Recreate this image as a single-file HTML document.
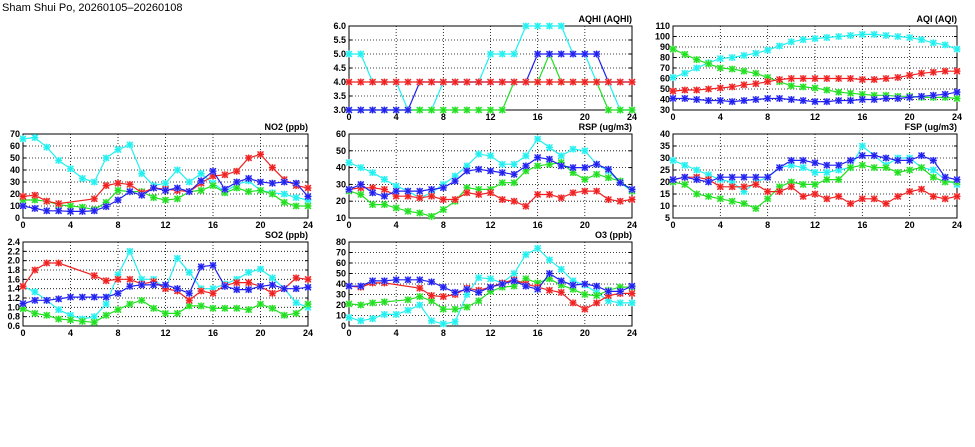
<!DOCTYPE html>
<html><head><meta charset="utf-8"><style>
html,body{margin:0;padding:0;background:#fff;}
svg{display:block;}
text{font-family:"Liberation Sans",sans-serif;font-size:9px;font-weight:bold;fill:#000;}
</style></head><body>
<svg id="s" width="975" height="447" xmlns="http://www.w3.org/2000/svg">
<text x="2" y="11" style="font-size:11px;font-weight:normal">Sham Shui Po, 20260105–20260108</text>
</svg>
<script>
var S=document.getElementById('s');var ns='http://www.w3.org/2000/svg';
function el(t,a,txt){var e=document.createElementNS(ns,t);for(var k in a)e.setAttribute(k,a[k]);if(txt!==undefined)e.textContent=txt;S.appendChild(e);return e;}
var C={c:'#20f0f0',g:'#20e020',r:'#f02020',b:'#2020f0'};
var L={c:'#a0f8f8',g:'#a0f0a0',r:'#f8a0a0',b:'#a0a0f8'};
var P=[
{t:'AQHI (AQHI)',o:['c','g','b','r'],x0:349,x1:632,y0:26,y1:110,mn:3,mx:6,st:0.5,f:1,d:{
c:[5,5,4,4,4,3,3,3,4,4,4,4,5,5,5,6,6,6,6,5,5,4,4,3,3],
g:[3,3,3,3,3,3,3,3,3,3,3,3,3,3,4,4,4,5,4,4,4,4,3,3,3],
b:[3,3,3,3,3,3,4,4,4,4,4,4,4,4,4,4,5,5,5,5,5,5,4,4,4],
r:[4,4,4,4,4,4,4,4,4,4,4,4,4,4,4,4,4,4,4,4,4,4,4,4,4]}},
{t:'AQI (AQI)',x0:673,x1:957,y0:26,y1:110,mn:30,mx:110,st:10,f:0,d:{
c:[61,65,70,75,79,80,82,84,87,91,95,97,98,99,100,101,102,102,101,100,99,97,94,92,88],
g:[88,83,78,74,70,69,67,65,61,57,53,52,51,49,47,46,45,44,44,43,43,42,42,42,41],
r:[48,49,49,50,51,52,54,55,57,59,60,60,60,60,60,60,59,59,60,61,63,65,66,67,67],
b:[41,41,40,39,39,38,39,40,41,41,40,39,38,38,39,39,40,40,41,41,42,43,44,45,47]}},
{t:'NO2 (ppb)',x0:23,x1:308,y0:134,y1:218,mn:0,mx:70,st:10,f:0,d:{
c:[66,67,59,48,41,33,30,50,57,61,37,27,29,40,30,37,29,22,28,31,23,21,20,17,15],
g:[15,15,14,11,10,9,7,13,23,22,22,17,15,16,22,23,27,21,25,22,23,20,13,10,10],
r:[18,19,14,12,null,null,16,27,29,28,21,25,24,23,22,29,35,36,39,50,53,42,32,27,25],
b:[10,8,6,6,5.5,5.5,6,9.5,15,22,19,25,23,25,22,31,39,24,30,33,30,29,30,29,18]}},
{t:'RSP (ug/m3)',x0:349,x1:632,y0:134,y1:218,mn:10,mx:60,st:10,f:0,d:{
c:[43,40,37,33,29,26,22,25,30,35,41,48,47,42,42,47,57,52,47,51,50,42,38,31,26],
g:[26,24,18,18,16,14,13,11,15,20,28,27,27,31,31,38,41,42,43,37,33,36,34,32,26],
r:[27,28,28,27,23,23,22,23,21,21,25,24,25,21,20,17,24,24,22,25,26,26,21,20,21],
b:[27,30,25,23,26,26,26,27,28,32,38,39,38,37,36,41,46,45,41,40,40,42,39,31,27]}},
{t:'FSP (ug/m3)',x0:673,x1:957,y0:134,y1:218,mn:5,mx:40,st:5,f:0,d:{
c:[29,27,25,23,21,20,16,20,22,26,27,26,24,24,25,26,35,31,27,30,30,26,25,21,19],
g:[20,19,15,14,13,12,11,9,13,18,20,19,19,21,21,26,27,26,26,24,25,26,22,20,20],
r:[21,22,22,21,18,18,18,19,16,16,18,14,15,13,14,11,13,13,11,14,16,17,14,13,14],
b:[21,22,21,20,22,22,22,22,22,26,29,29,28,27,27,29,31,31,30,29,29,31,29,22,21]}},
{t:'SO2 (ppb)',x0:23,x1:308,y0:242,y1:326,mn:0.6,mx:2.4,st:0.2,f:1,d:{
c:[1.45,1.33,1.15,0.95,0.83,0.75,0.8,1.07,1.7,2.2,1.6,1.6,1.4,2.05,1.75,1.4,1.4,1.5,1.6,1.75,1.82,1.63,1.4,1.1,1.0],
g:[0.97,0.87,0.83,0.75,0.73,0.7,0.68,0.83,0.95,1.07,1.15,0.98,0.87,0.87,1.03,1.03,0.98,0.98,0.98,0.95,1.07,0.98,0.83,0.87,1.07],
r:[1.45,1.8,1.95,1.95,null,null,1.68,1.57,1.6,1.6,1.5,1.55,1.4,1.35,1.15,1.35,1.3,1.47,1.53,1.53,1.45,1.3,1.4,1.63,1.6],
b:[1.08,1.15,1.15,1.18,1.22,1.22,1.22,1.22,1.3,1.45,1.48,1.48,1.48,1.4,1.3,1.87,1.9,1.45,1.38,1.38,1.45,1.48,1.4,1.4,1.43]}},
{t:'O3 (ppb)',x0:349,x1:632,y0:242,y1:326,mn:0,mx:80,st:10,f:0,d:{
c:[8,5,7,11,11,15,20,5,2,4,30,46,45,41,50,68,74,63,54,43,39,32,24,22,22],
g:[21,20,22,23,null,25,28,24,16,16,18,24,33,37,38,45,41,45,39,35,30,29,34,37,37],
r:[38,37,41,41,null,null,36,29,28,30,36,34,37,41,44,40,37,34,32,22,16,22,29,31,31],
b:[38,38,43,43,44,44,44,42,37,32,35,32,37,40,43,38,35,50,43,39,40,38,33,33,38]}}
];
P.forEach(function(p){
 var X=function(h){return p.x0+(p.x1-p.x0)*h/24;};
 var Y=function(v){return p.y1-(p.y1-p.y0)*(v-p.mn)/(p.mx-p.mn);};
 var n=Math.round((p.mx-p.mn)/p.st);
 for(var i=0;i<=n;i++){var v=p.mn+i*p.st,y=Y(v);
  if(i>0&&i<n)el('line',{x1:p.x0,x2:p.x1,y1:y,y2:y,stroke:'#000','stroke-width':0.8,'stroke-dasharray':'1,2'});
  el('line',{x1:p.x0,x2:p.x0+3,y1:y,y2:y,stroke:'#000'});el('line',{x1:p.x1-3,x2:p.x1,y1:y,y2:y,stroke:'#000'});
  el('text',{x:p.x0-3,y:y+3,'text-anchor':'end'},v.toFixed(p.f));}
 for(var h=0;h<=24;h+=4){var x=X(h);
  if(h>0&&h<24)el('line',{x1:x,x2:x,y1:p.y0,y2:p.y1,stroke:'#000','stroke-width':0.8,'stroke-dasharray':'1,2'});
  el('text',{x:x,y:p.y1+10,'text-anchor':'middle'},h);}
 el('rect',{x:p.x0,y:p.y0,width:p.x1-p.x0,height:p.y1-p.y0,fill:'none',stroke:'#000','stroke-width':1});
 el('text',{x:p.x1,y:p.y0-4,'text-anchor':'end'},p.t);
 (p.o||['c','g','r','b']).forEach(function(k){var a=p.d[k],pts=[];
  a.forEach(function(v,h){if(v!==null)pts.push(X(h).toFixed(1)+','+Y(v).toFixed(1));});
  el('polyline',{points:pts.join(' '),fill:'none',stroke:C[k],'stroke-width':1.2});
  a.forEach(function(v,h){if(v===null)return;var x=X(h),y=Y(v);
   el('rect',{x:x-3,y:y-3,width:6,height:6,fill:L[k]});
   el('path',{d:'M'+(x-3)+' '+(y-3)+'L'+(x+3)+' '+(y+3)+'M'+(x+3)+' '+(y-3)+'L'+(x-3)+' '+(y+3)+'M'+x+' '+(y-3.5)+'V'+(y+3.5)+'M'+(x-3.5)+' '+y+'H'+(x+3.5),stroke:C[k],'stroke-width':1.2});});
 });
});
</script>
</body></html>
